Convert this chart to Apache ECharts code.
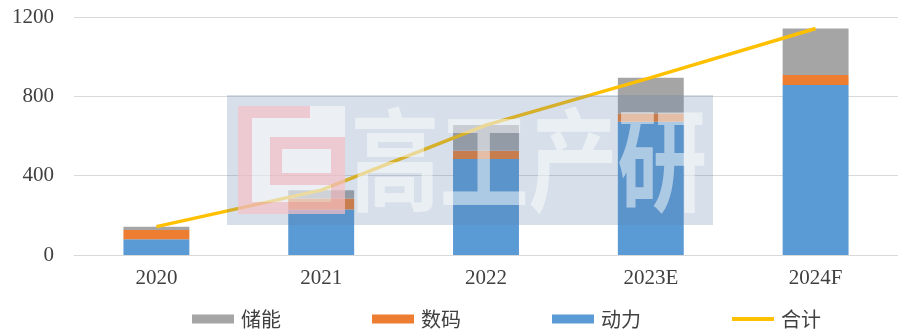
<!DOCTYPE html>
<html>
<head>
<meta charset="utf-8">
<script src="https://cdn.jsdelivr.net/npm/echarts@6/dist/echarts.min.js"></script>
<style>
  html, body { margin: 0; padding: 0; background: #fff; }
  #chart { width: 898px; height: 329px; }
</style>
</head>
<body>
<div id="chart"></div>
<script>
// Shipment categories and stacked segments
const categories = ['2020', '2021', '2022', '2023E', '2024F'];
const powerValues = [79, 230, 484, 672, 857];    // 动力
const digitalValues = [47, 55, 42, 42, 50];      // 数码
const storageValues = [17, 42, 129, 180, 235];   // 储能
const totalValues = [143, 327, 655, 894, 1142];  // 合计
const yTicks = { min: 0, max: 1200, interval: 400 };

const chart = echarts.init(document.getElementById('chart'));

const serifFont = '"Liberation Serif", "Times New Roman", serif';
const cjkFont = '"Noto Sans CJK SC", sans-serif';

// Translucent brand watermark laid over the plot area
const markColor = 'rgba(238,120,132,0.32)';
const watermark = [
  { type: 'rect', shape: { x: 227, y: 95, width: 486, height: 130 },
    style: { fill: 'rgba(92,128,172,0.25)' }, z: 100, silent: true },
  { type: 'rect', shape: { x: 238, y: 106, width: 107, height: 108 },
    style: { fill: 'rgba(255,255,255,0.55)' }, z: 101, silent: true },
  { type: 'rect', shape: { x: 238, y: 106, width: 14, height: 108 }, style: { fill: markColor }, z: 102, silent: true },
  { type: 'rect', shape: { x: 252, y: 106, width: 58, height: 12 }, style: { fill: markColor }, z: 102, silent: true },
  { type: 'rect', shape: { x: 252, y: 202, width: 93, height: 12 }, style: { fill: markColor }, z: 102, silent: true },
  { type: 'rect', shape: { x: 331, y: 137, width: 14, height: 65 }, style: { fill: markColor }, z: 102, silent: true },
  { type: 'rect', shape: { x: 270, y: 137, width: 61, height: 12 }, style: { fill: markColor }, z: 102, silent: true },
  { type: 'rect', shape: { x: 270, y: 149, width: 12, height: 36 }, style: { fill: markColor }, z: 102, silent: true },
  { type: 'rect', shape: { x: 282, y: 173, width: 49, height: 12 }, style: { fill: markColor }, z: 102, silent: true }
];
['高', '工', '产', '研'].forEach((ch, i) => {
  watermark.push({
    type: 'text', silent: true, z: 103,
    x: 395 + i * 89, y: 160, scaleX: 0.8,
    style: {
      text: ch, fill: 'rgba(255,255,255,0.5)',
      font: 'bold 112px "Noto Sans CJK SC", sans-serif',
      align: 'center', verticalAlign: 'middle'
    }
  });
});

const barBase = { type: 'bar', stack: 'total', barWidth: '40%' };

chart.setOption({
  animation: false,
  grid: { left: 74, top: 17, width: 826, height: 238, containLabel: false },
  legend: {
    left: 187, top: 304,
    itemWidth: 42, itemHeight: 9, itemGap: 91,
    textStyle: { fontFamily: cjkFont, fontSize: 20, color: '#404040', padding: [0, 0, 0, 2] },
    data: [
      { name: '储能', icon: 'rect' },
      { name: '数码', icon: 'rect' },
      { name: '动力', icon: 'rect' },
      { name: '合计', icon: 'path://M0,0H42V4H0Z' }
    ]
  },
  xAxis: {
    type: 'category', data: categories,
    axisLine: { lineStyle: { color: '#d9d9d9' } },
    axisTick: { show: false },
    axisLabel: { fontFamily: serifFont, fontSize: 21, color: '#404040', margin: 13 }
  },
  yAxis: {
    type: 'value', min: yTicks.min, max: yTicks.max, interval: yTicks.interval,
    axisLine: { show: false }, axisTick: { show: false },
    splitLine: { lineStyle: { color: '#d9d9d9' } },
    axisLabel: {
      fontFamily: serifFont, fontSize: 21, color: '#404040', margin: 20,
      formatter: v => String(v)
    }
  },
  graphic: watermark,
  series: [
    Object.assign({ name: '动力', data: powerValues, itemStyle: { color: '#5B9BD5' } }, barBase),
    Object.assign({ name: '数码', data: digitalValues, itemStyle: { color: '#ED7D31' } }, barBase),
    Object.assign({ name: '储能', data: storageValues, itemStyle: { color: '#A5A5A5' } }, barBase),
    {
      name: '合计', type: 'line', data: totalValues,
      symbol: 'none', z: 5,
      lineStyle: { color: '#FFC000', width: 3.5 },
      itemStyle: { color: '#FFC000' }
    }
  ]
});
</script>
</body>
</html>
